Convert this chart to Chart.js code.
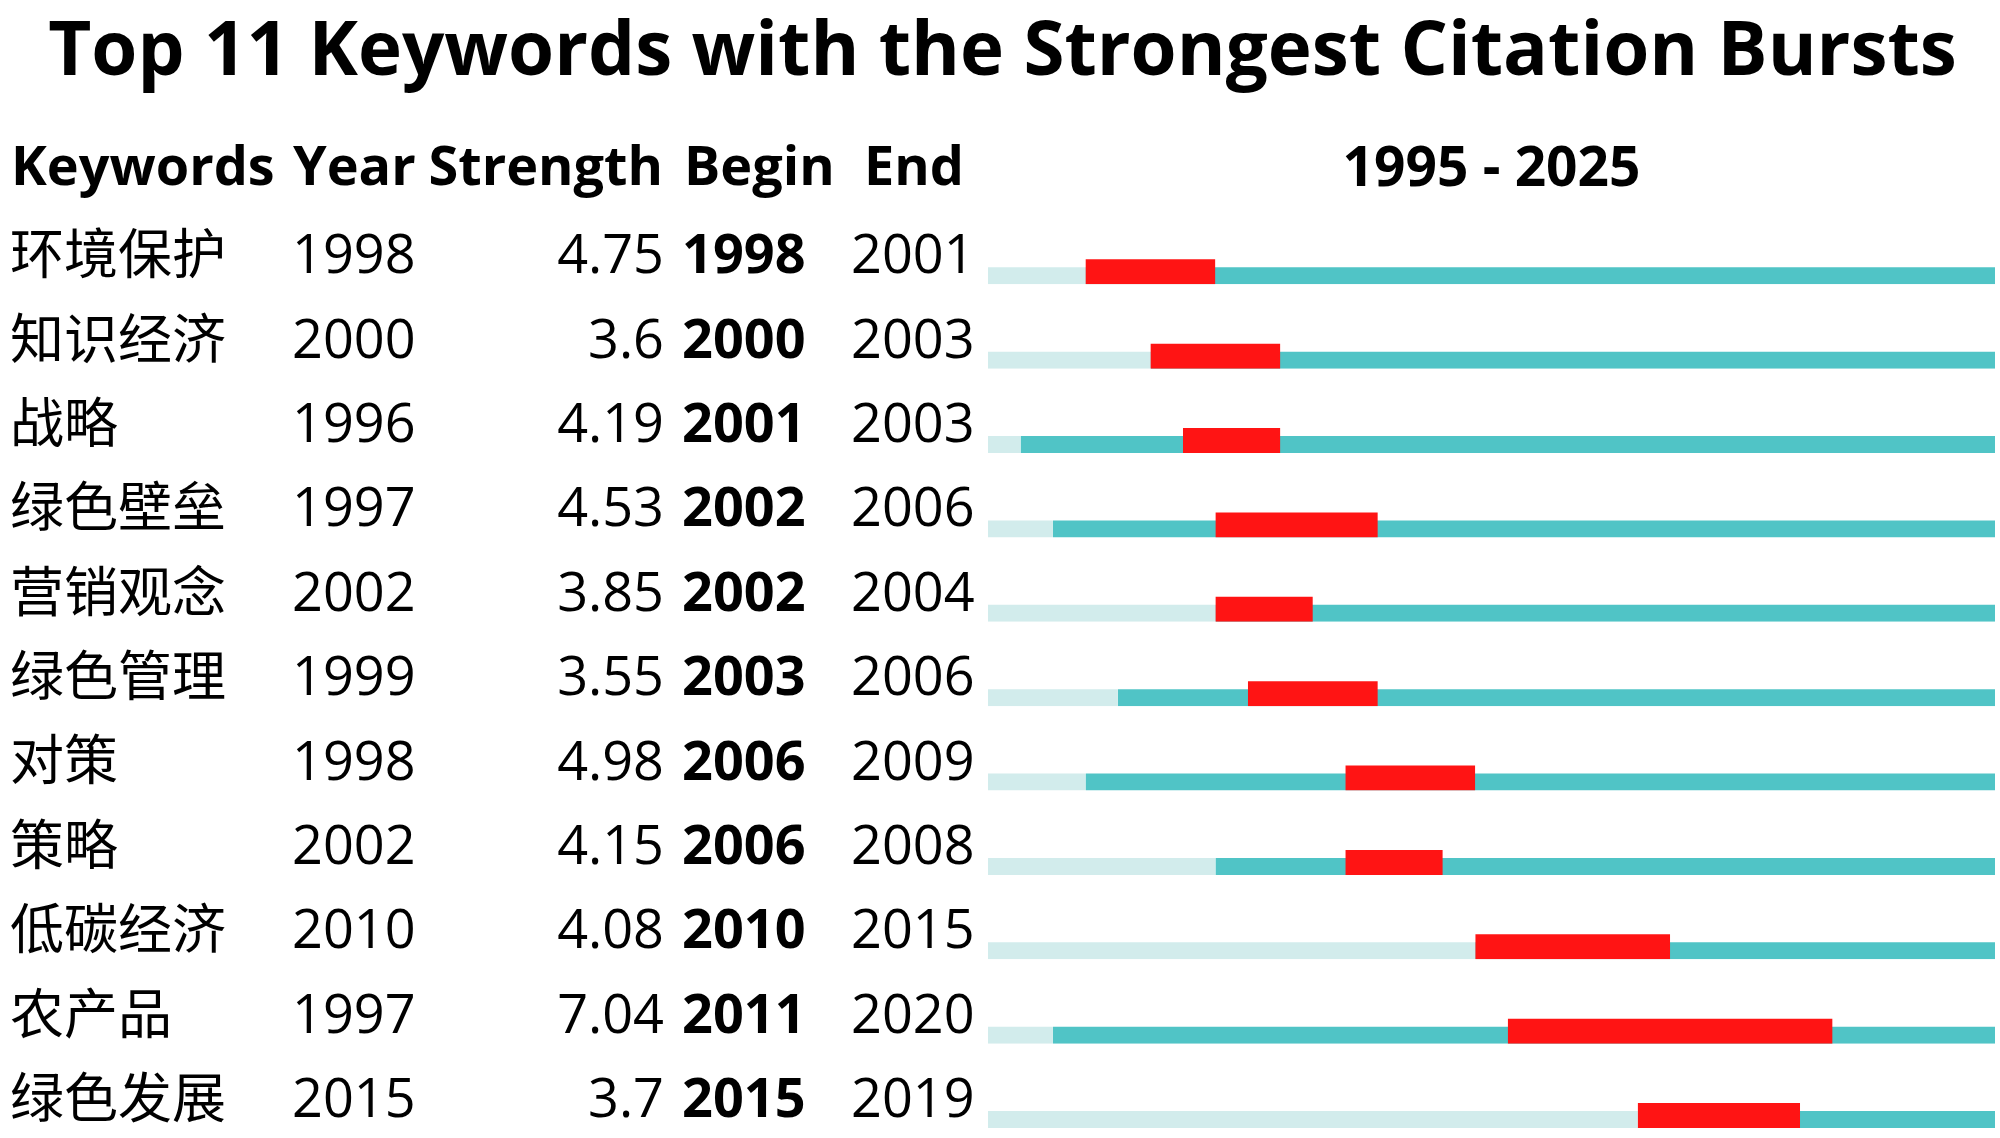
<!DOCTYPE html>
<html>
<head>
<meta charset="utf-8">
<script src="https://cdn.jsdelivr.net/npm/chart.js@4.4.1/dist/chart.umd.min.js"></script>
<style>
  body { margin: 0; background: #fff; }
  #wrap { width: 2000px; height: 1138px; }
</style>
</head>
<body>
<div id="wrap"><canvas id="burstChart"></canvas></div>
<script>
// Burst data
const keywords = ['环境保护', '知识经济', '战略', '绿色壁垒', '营销观念', '绿色管理', '对策', '策略', '低碳经济', '农产品', '绿色发展'];
const years = [1998, 2000, 1996, 1997, 2002, 1999, 1998, 2002, 2010, 1997, 2015];
const strengths = [4.75, 3.6, 4.19, 4.53, 3.85, 3.55, 4.98, 4.15, 4.08, 7.04, 3.7];
const begins = [1998, 2000, 2001, 2002, 2002, 2003, 2006, 2006, 2010, 2011, 2015];
const ends = [2001, 2003, 2003, 2006, 2004, 2006, 2009, 2008, 2015, 2020, 2019];
const firstYear = 1995;
const lastYear = 2025;

const FONT = '"Open Sans", "Noto Sans CJK SC", sans-serif';
const RED = '#FF1414';
const TEAL = '#50C4C6';
const LIGHT = '#D2ECEC';

// Draw the text columns next to the bars
const tablePlugin = {
    id: 'burstTable',
    afterDraw(chart) {
        const { ctx, scales: { x, y } } = chart;
        ctx.save();
        ctx.fillStyle = '#000';

        // header row, same line as the axis title
        const headY = x.top + x.options.title.padding.top + 54 * 1.2 / 2;
        ctx.font = 'bold 54px ' + FONT;
        ctx.textBaseline = 'middle';
        ctx.textAlign = 'left';
        ctx.fillText('Keywords', 11, headY);
        ctx.fillText('Year', 293, headY);
        ctx.textAlign = 'right';
        ctx.fillText('Strength', 663, headY);
        ctx.textAlign = 'left';
        ctx.fillText('Begin', 684, headY);
        ctx.fillText('End', 864, headY);

        ctx.textBaseline = 'alphabetic';
        keywords.forEach((k, i) => {
            const base = y.getPixelForValue(i) + 5.5;
            ctx.font = '54px ' + FONT;
            ctx.textAlign = 'left';
            ctx.fillText(String(years[i]), 292, base);
            ctx.textAlign = 'right';
            ctx.fillText(String(strengths[i]), 664, base);
            ctx.textAlign = 'left';
            ctx.fillText(String(ends[i]), 851, base);
            ctx.font = 'bold 54px ' + FONT;
            ctx.fillText(String(begins[i]), 682, base);
        });
        ctx.restore();
    }
};

// thin bars sit on the bottom of the red ones: same thickness, transparent top border
const hiddenTop = (px) => ({ top: px, right: 0, bottom: 0, left: 0 });

new Chart(document.getElementById('burstChart'), {
    type: 'bar',
    data: {
        labels: keywords,
        datasets: [
            {
                label: 'Burst',
                data: keywords.map((k, i) => [begins[i], ends[i] + 1]),
                backgroundColor: RED,
                borderColor: 'rgba(0,0,0,0)',
                borderWidth: hiddenTop(8)
            },
            {
                label: 'Active',
                data: keywords.map((k, i) => [years[i], lastYear + 1]),
                backgroundColor: TEAL,
                borderColor: 'rgba(0,0,0,0)',
                borderWidth: hiddenTop(16)
            },
            {
                label: 'Before',
                data: keywords.map((k, i) => [firstYear, years[i]]),
                backgroundColor: LIGHT,
                borderColor: 'rgba(0,0,0,0)',
                borderWidth: hiddenTop(16)
            }
        ]
    },
    options: {
        indexAxis: 'y',
        responsive: true,
        maintainAspectRatio: false,
        animation: false,
        datasets: {
            bar: {
                grouped: false,
                barThickness: 33,
                borderSkipped: false,
                inflateAmount: 0,
                clip: false
            }
        },
        layout: {
            padding: { left: 10, right: 5, top: 0, bottom: 26.5 }
        },
        plugins: {
            legend: { display: false },
            tooltip: { enabled: false },
            title: {
                display: true,
                text: 'Top 11 Keywords with the Strongest Citation Bursts',
                color: '#000',
                font: { family: FONT, size: 74.5, weight: 'bold' },
                padding: { top: 9.5, bottom: 0 }
            }
        },
        scales: {
            x: {
                type: 'linear',
                position: 'top',
                min: firstYear,
                max: lastYear + 1,
                grid: { display: false, drawTicks: false },
                border: { display: false },
                ticks: { display: false },
                title: {
                    display: true,
                    text: firstYear + ' - ' + lastYear,
                    color: '#000',
                    font: { family: FONT, size: 55, weight: 'bold' },
                    padding: { top: 38.6, bottom: 64.3 }
                }
            },
            y: {
                type: 'category',
                offset: false,
                grid: { display: false, drawTicks: false },
                border: { display: false },
                ticks: {
                    color: '#000',
                    font: { family: FONT, size: 54, lineHeight: 0.8 },
                    padding: 0,
                    crossAlign: 'far',
                    labelOffset: -9,
                    autoSkip: false
                },
                afterFit(scale) {
                    scale.width = 978;
                }
            }
        }
    },
    plugins: [tablePlugin]
});
</script>
</body>
</html>
